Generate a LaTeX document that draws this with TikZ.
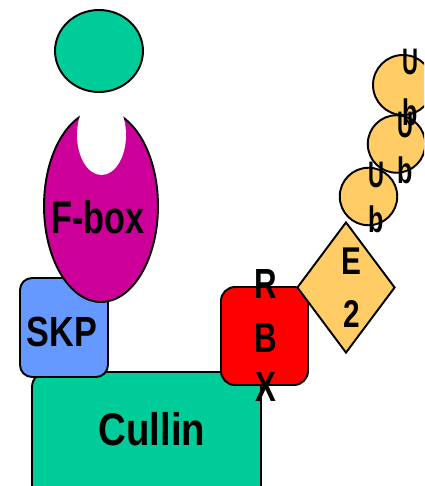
\documentclass[tikz,border=0pt]{standalone}
\usepackage{fontspec}
\setmainfont{Liberation Sans}
\usepackage{graphicx}
\usetikzlibrary{shapes.geometric}
\definecolor{cullingreen}{HTML}{00CC99}
\definecolor{fboxpink}{HTML}{CC0099}
\definecolor{skpblue}{HTML}{6699FF}
\definecolor{ubyellow}{HTML}{FFCC66}
% condensed bold label: \narrow{x-factor}{text}
\newcommand\narrow[2]{\scalebox{#1}[1]{#2}}
\begin{document}
\begin{tikzpicture}[x=0.02cm,y=-0.02cm,
  protein/.style={draw=black, line width=1.1pt, inner sep=0pt},
  box/.style={protein, rectangle},
  blob/.style={protein, ellipse},
  lbl/.style={inner sep=0pt, font=\bfseries},
  big/.style={lbl, font=\fontsize{26}{26}\selectfont\bfseries},
  mid/.style={lbl, font=\fontsize{24}{24}\selectfont\bfseries},
  small/.style={lbl, font=\fontsize{21}{21}\selectfont\bfseries}]
\useasboundingbox (0,0) rectangle (424,486);
\clip (0,0) rectangle (424,486);

% scaffold
\node[box, fill=cullingreen, minimum width=4.58cm, minimum height=2.76cm,
      rounded corners=0.3cm] (cullin) at (146.5,441) {};
\node[box, fill=skpblue, minimum width=1.76cm, minimum height=1.98cm,
      rounded corners=0.24cm] (skp) at (64,327.5) {};

% F-box protein with its binding notch, and the substrate
\node[blob, fill=fboxpink, minimum width=2.28cm, minimum height=3.84cm] (fbox) at (101,206) {};
\node[ellipse, fill=white, inner sep=0pt, minimum width=0.98cm, minimum height=1.6cm] (notch) at (101.5,135) {};
\node[blob, fill=cullingreen, minimum width=1.76cm, minimum height=1.64cm] (substrate) at (99,51) {};

% RING box and E2
\node[box, fill=red, minimum width=1.74cm, minimum height=1.96cm,
      rounded corners=0.28cm] (rbx) at (264.5,336) {};
\node[protein, diamond, fill=ubyellow, minimum width=1.96cm, minimum height=2.62cm] (e2) at (346,287.5) {};

% ubiquitin chain
\node[protein, circle, fill=ubyellow, minimum size=1.2cm] (ub3) at (403,85) {};
\node[protein, circle, fill=ubyellow, minimum size=1.15cm] (ub2) at (396.5,144) {};
\node[protein, circle, fill=ubyellow, minimum size=1.15cm] (ub1) at (368.5,196.5) {};

% labels
\node[big] (tcullin) at (152,429) {\narrow{0.84}{Cullin}};
\node[mid] (tskp) at (62,332) {\narrow{0.81}{SKP}};
\node[big] (tfbox) at (98,217) {\narrow{0.75}{F-box}};
\node[mid] (tr) at (266,284) {\narrow{0.74}{R}};
\node[mid] (tb) at (266,338) {\narrow{0.74}{B}};
\node[mid] (tx) at (266,387) {\narrow{0.74}{X}};
\node[lbl, font=\fontsize{22}{22}\selectfont\bfseries] (te) at (351,261) {\narrow{0.77}{E}};
\node[lbl, font=\fontsize{22}{22}\selectfont\bfseries] (t2) at (352,314) {\narrow{0.77}{2}};
\node[small] (u1) at (376,175) {\narrow{0.6}{U}};
\node[small] (b1) at (376,219) {\narrow{0.68}{b}};
\node[small] (u2) at (405,125) {\narrow{0.6}{U}};
\node[small] (b2) at (405,170) {\narrow{0.68}{b}};
\node[small] (u3) at (410,62) {\narrow{0.6}{U}};
\node[small] (b3) at (410,112) {\narrow{0.68}{b}};
\end{tikzpicture}
\end{document}
